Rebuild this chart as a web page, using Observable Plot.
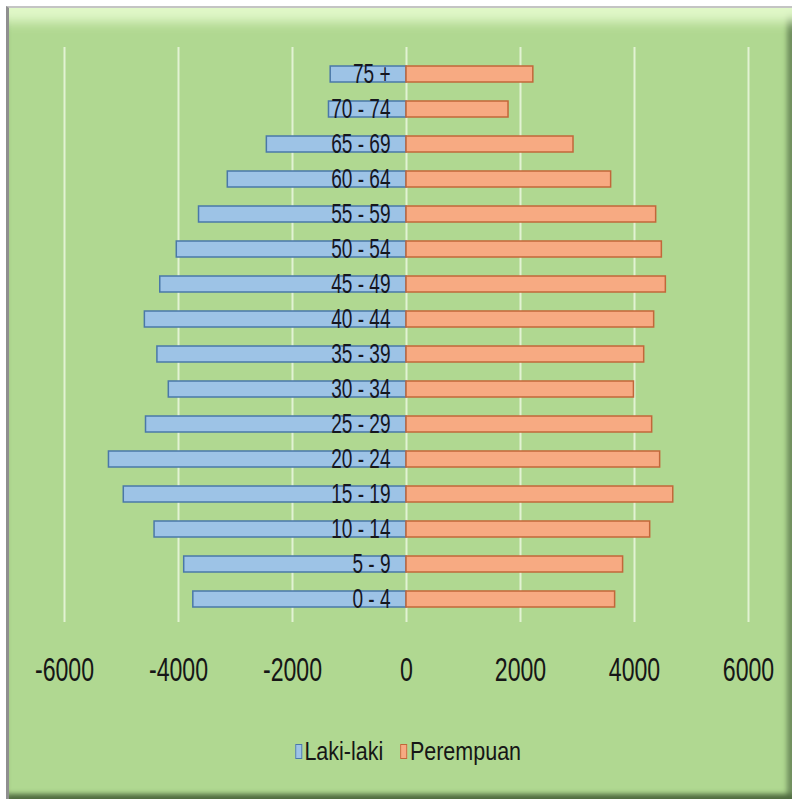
<!DOCTYPE html>
<html><head><meta charset="utf-8">
<script src="https://cdn.jsdelivr.net/npm/d3@7"></script>
<script src="https://cdn.jsdelivr.net/npm/@observablehq/plot@0.6"></script>
<style>
html,body{margin:0;padding:0;background:#fff;width:798px;height:807px;overflow:hidden;}
#frame{position:absolute;left:6px;top:6px;width:786px;height:793px;background:#b0d891;
 border-top:2px solid #c4c4c4;border-left:3px solid #8f8f8f;box-sizing:border-box;
 box-shadow: inset 0 24px 12px -10px #e0f7c8, inset 0 -8px 5px -3px #4f6b40, inset -8px 0 5px -3px #6f8f5e;}
#chart{position:absolute;left:0;top:0;}
#legend{position:absolute;left:9px;top:737px;width:798px;display:flex;justify-content:center;align-items:center;
 font-family:'Liberation Sans',Arial,sans-serif;font-size:25px;color:#161616;transform:scaleX(0.86);transform-origin:center;}
.item{display:flex;align-items:center;margin:0 10px;}
.sw{width:8px;height:15px;margin-right:3px;box-sizing:border-box;}
</style></head>
<body>
<div id="frame"></div>
<div id="chart"></div>
<div id="legend"></div>
<script>
const ages = ["0 - 4","5 - 9","10 - 14","15 - 19","20 - 24","25 - 29","30 - 34","35 - 39","40 - 44","45 - 49","50 - 54","55 - 59","60 - 64","65 - 69","70 - 74","75 +"];
const laki = [3740,3900,4420,4960,5220,4570,4170,4370,4590,4320,4030,3640,3135,2450,1360,1330];
const perempuan = [3660,3800,4275,4680,4450,4310,3990,4170,4345,4550,4480,4380,3590,2930,1790,2225];
const xTicks = [-6000,-4000,-2000,0,2000,4000,6000];
const seriesNames = ["Laki-laki","Perempuan"];
const seriesFill = ["#9dc3e6","#f7aa82"];
const seriesStroke = ["#4a78a8","#c2673a"];

const rows = ages.map((a,i)=>({age:a, laki:laki[i], perempuan:perempuan[i]}));

const plot = Plot.plot({
  width:798, height:700, marginLeft:64, marginRight:50, marginTop:52, marginBottom:78,
  style:{background:"transparent", color:"#161616", fontFamily:"'Liberation Sans', Arial, sans-serif", overflow:"visible"},
  x:{domain:[-6000,6000], label:null},
  y:{domain: ages.slice().reverse(), paddingInner:0.54, paddingOuter:0.27, axis:null},
  marks:[
    Plot.ruleX(xTicks,{stroke:"#e2f2d3", strokeWidth:2, insetTop:-5}),
    Plot.barX(rows,{x:d=>-d.laki, y:"age", fill:seriesFill[0], stroke:seriesStroke[0], strokeWidth:1.5}),
    Plot.barX(rows,{x:"perempuan", y:"age", fill:seriesFill[1], stroke:seriesStroke[1], strokeWidth:1.5}),
    Plot.text(rows,{x:0, y:"age", text:"age", textAnchor:"end", dx:-16, fontSize:28, fill:"#16161e"}),
    Plot.axisX(xTicks,{tickSize:0, tickPadding:34, fontSize:34, tickFormat:d=>String(d), label:null})
  ]
});
document.getElementById("chart").appendChild(plot);
plot.querySelectorAll("text").forEach(t=>{
  const L = t.getComputedTextLength();
  t.setAttribute("textLength",(L*0.68).toFixed(1));
  t.setAttribute("lengthAdjust","spacingAndGlyphs");
});

const lg = document.getElementById("legend");
seriesNames.forEach((n,i)=>{
  const it = document.createElement("div"); it.className="item";
  const sw = document.createElement("div"); sw.className="sw";
  sw.style.background = seriesFill[i]; sw.style.border = "1px solid "+seriesStroke[i];
  const tx = document.createElement("span"); tx.textContent = n;
  it.appendChild(sw); it.appendChild(tx); lg.appendChild(it);
});
</script>
</body></html>
